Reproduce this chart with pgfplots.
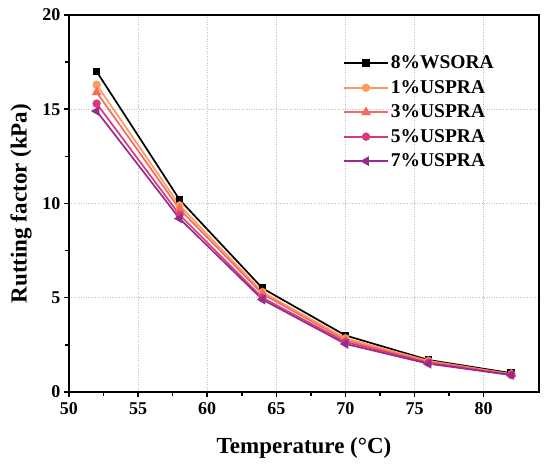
\documentclass[border=0pt]{standalone}
\usepackage{pgfplots}
\pgfplotsset{compat=1.18}
\usepackage{fontspec}
\setmainfont{Liberation Serif}
\definecolor{cA}{HTML}{000000}
\definecolor{cB}{HTML}{FF9A5E}
\definecolor{cC}{HTML}{F76A5E}
\definecolor{cD}{HTML}{D63A7A}
\definecolor{cE}{HTML}{9A2A8C}
\begin{document}
\begin{tikzpicture}
\useasboundingbox (-69pt,-77pt) rectangle (481pt,392pt);
\begin{axis}[
  scale only axis,
  width=470pt, height=377pt,
  xmin=50, xmax=84, ymin=0, ymax=20,
  xtick={50,55,60,65,70,75,80},
  xticklabels={\textbf{50},\textbf{55},\textbf{60},\textbf{65},\textbf{70},\textbf{75},\textbf{80}},
  ytick={0,5,10,15,20},
  yticklabels={\textbf{0},\textbf{5},\textbf{10},\textbf{15},\textbf{20}},
  minor x tick num=1, minor y tick num=1,
  tick align=outside,
  xtick pos=left, ytick pos=left,
  major tick length=5pt, minor tick length=3.5pt,
  every tick/.style={black, line width=1.5pt},
  axis line style={line width=1.8pt},
  grid=major,
  major grid style={dotted, gray!50, line width=0.7pt},
  every tick label/.append style={font=\fontsize{18}{18}\selectfont\bfseries},
  xticklabel style={yshift=-2pt},
  xlabel={Temperature (°C)},
  ylabel={Rutting factor (kPa)},
  label style={font=\bfseries\fontsize{23}{23}\selectfont},
  xlabel style={at={(axis description cs:0.5,-0.149)}, anchor=center},
  ylabel style={at={(axis description cs:-0.102,0.5)}, anchor=center},
  legend cell align=left,
  legend style={at={(axis description cs:0.583,0.897)}, anchor=north west,
    draw=none, fill=none, font=\bfseries\fontsize{19.5}{19.5}\selectfont,
    row sep=6pt, inner sep=0pt},
  legend image code/.code={\draw[mark repeat=2,mark phase=2] plot coordinates {(0pt,0pt) (22pt,0pt) (44pt,0pt)};},
  every axis plot/.append style={line width=1.7pt},
]
\addplot[color=cA, mark=square*, mark size=3pt] coordinates {(52,17.0) (58,10.2) (64,5.5) (70,3.0) (76,1.7) (82,1.0)};
\addlegendentry{8\%WSORA}
\addplot[color=cB, mark=*, mark size=3.3pt] coordinates {(52,16.3) (58,9.9) (64,5.3) (70,2.85) (76,1.65) (82,0.95)};
\addlegendentry{1\%USPRA}
\addplot[color=cC, mark=triangle*, mark size=4pt] coordinates {(52,15.9) (58,9.7) (64,5.2) (70,2.75) (76,1.6) (82,0.95)};
\addlegendentry{3\%USPRA}
\addplot[color=cD, mark=*, mark size=3.3pt] coordinates {(52,15.3) (58,9.4) (64,5.0) (70,2.65) (76,1.55) (82,0.9)};
\addlegendentry{5\%USPRA}
\addplot[color=cE, mark=triangle*, mark size=4pt, mark options={rotate=90}] coordinates {(52,14.9) (58,9.2) (64,4.9) (70,2.55) (76,1.5) (82,0.9)};
\addlegendentry{7\%USPRA}
\end{axis}
\end{tikzpicture}
\end{document}
